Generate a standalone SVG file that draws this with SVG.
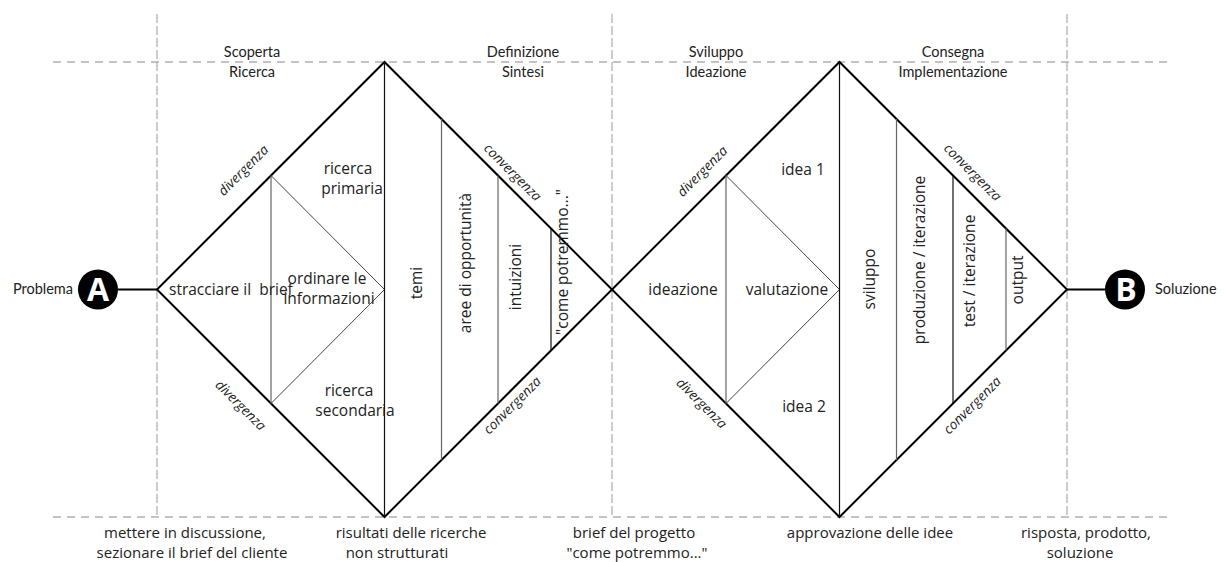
<svg xmlns="http://www.w3.org/2000/svg" width="1225" height="562" viewBox="0 0 1225 562">
<style>
.hd{stroke:#888;stroke-width:1.2;stroke-dasharray:8 6;fill:none}
.vd{stroke:#999;stroke-width:1;stroke-dasharray:9 3;fill:none}
.edge{stroke:#000;stroke-width:2;fill:none;stroke-linejoin:miter}
.axis{stroke:#111;stroke-width:1.2;fill:none}
.inner{stroke:#666;stroke-width:1.2;fill:none}
.thin{stroke:#444;stroke-width:1;fill:none}
.ph{font-family:Lato,"Liberation Sans",sans-serif;font-size:14.5px;fill:#222;text-anchor:middle}
.lb{font-family:"Open Sans","Noto Sans",sans-serif;font-size:15.5px;fill:#222;text-anchor:middle}
.bt{font-family:"Open Sans","Noto Sans",sans-serif;font-size:15px;fill:#222;text-anchor:middle}
.it{font-family:"Open Sans","Noto Sans",sans-serif;font-size:13.5px;font-style:italic;fill:#222;text-anchor:middle;dominant-baseline:central}
.end{font-family:Lato,"Liberation Sans",sans-serif;font-size:14.5px;fill:#222}
.ltr{font-family:"Open Sans","Liberation Sans",sans-serif;font-weight:bold;font-size:32px;fill:#fff;text-anchor:middle}
</style>

<g id="guides">
<line class="hd" x1="53" y1="62" x2="1172" y2="62"/>
<line class="hd" x1="53" y1="517" x2="1172" y2="517"/>
<line class="vd" x1="157" y1="14" x2="157" y2="517"/>
<line class="vd" x1="612" y1="14" x2="612" y2="517"/>
<line class="vd" x1="1067" y1="14" x2="1067" y2="517"/>
</g>

<g id="phase-labels">
<text class="ph" x="252" y="57">Scoperta</text>
<text class="ph" x="252" y="77">Ricerca</text>
<text class="ph" x="523" y="57">Definizione</text>
<text class="ph" x="523" y="77">Sintesi</text>
<text class="ph" x="716" y="57">Sviluppo</text>
<text class="ph" x="716" y="77">Ideazione</text>
<text class="ph" x="953" y="57">Consegna</text>
<text class="ph" x="953" y="77">Implementazione</text>
</g>

<g id="diamond-1">
<polygon class="edge" points="157,289.5 384.5,62 612,289.5 384.5,517"/>
<line class="inner" x1="271" y1="175.5" x2="271" y2="403.5"/>
<polyline class="thin" points="271,175.5 384.5,289.5 271,403.5"/>
<line class="axis" x1="384.5" y1="62" x2="384.5" y2="517"/>
<line class="inner" x1="441.5" y1="119" x2="441.5" y2="460"/>
<line class="inner" x1="498" y1="175.5" x2="498" y2="403.5"/>
<line class="axis" x1="551" y1="228.5" x2="551" y2="350.5"/>
<text class="lb" x="348" y="174">ricerca</text>
<text class="lb" x="352" y="194">primaria</text>
<text class="lb" x="169" y="295" style="text-anchor:start;white-space:pre">stracciare il  brief</text>
<text class="lb" x="327" y="284">ordinare le</text>
<text class="lb" x="329" y="304">informazioni</text>
<text class="lb" x="349" y="396">ricerca</text>
<text class="lb" x="355" y="416">secondaria</text>
<text class="lb" transform="translate(422,283) rotate(-90)">temi</text>
<text class="lb" transform="translate(471,263) rotate(-90)">aree di opportunità</text>
<text class="lb" transform="translate(521,277) rotate(-90)">intuizioni</text>
<text class="lb" transform="translate(568,262) rotate(-90)">"come potremmo..."</text>
<text class="it" transform="translate(243,170) rotate(-45)">divergenza</text>
<text class="it" transform="translate(241,405) rotate(45)">divergenza</text>
<text class="it" transform="translate(513,172) rotate(45)">convergenza</text>
<text class="it" transform="translate(512,405) rotate(-45)">convergenza</text>
</g>

<g id="diamond-2">
<polygon class="edge" points="612,289.5 839.5,62 1067,289.5 839.5,517"/>
<line class="inner" x1="726" y1="175.5" x2="726" y2="403.5"/>
<polyline class="thin" points="726,175.5 839.5,289.5 726,403.5"/>
<line class="axis" x1="839.5" y1="62" x2="839.5" y2="517"/>
<line class="inner" x1="896.5" y1="119" x2="896.5" y2="460"/>
<line class="axis" x1="953" y1="175.5" x2="953" y2="403.5"/>
<line class="inner" x1="1006" y1="228.5" x2="1006" y2="350.5"/>
<text class="lb" x="803" y="175">idea 1</text>
<text class="lb" x="683" y="295">ideazione</text>
<text class="lb" x="787" y="295">valutazione</text>
<text class="lb" x="804" y="412">idea 2</text>
<text class="lb" transform="translate(875,279) rotate(-90)">sviluppo</text>
<text class="lb" transform="translate(925,260) rotate(-90)">produzione / iterazione</text>
<text class="lb" transform="translate(975,271) rotate(-90)">test / iterazione</text>
<text class="lb" transform="translate(1023,280) rotate(-90)">output</text>
<text class="it" transform="translate(702,171) rotate(-45)">divergenza</text>
<text class="it" transform="translate(702,403) rotate(45)">divergenza</text>
<text class="it" transform="translate(973,172) rotate(45)">convergenza</text>
<text class="it" transform="translate(972,405) rotate(-45)">convergenza</text>
</g>

<g id="connectors">
<line class="edge" x1="118" y1="289.5" x2="157" y2="289.5"/>
<line class="edge" x1="1067" y1="289.5" x2="1105" y2="289.5"/>
</g>

<g id="start-A">
<circle cx="98" cy="289.5" r="20" fill="#000"/>
<text class="ltr" x="98" y="301">A</text>
<text class="end" x="73" y="294" text-anchor="end">Problema</text>
</g>

<g id="end-B">
<circle cx="1125" cy="289.5" r="20" fill="#000"/>
<text class="ltr" x="1126" y="301">B</text>
<text class="end" x="1155" y="294">Soluzione</text>
</g>

<g id="outcomes">
<text class="bt" x="185" y="538">mettere in discussione,</text>
<text class="bt" x="192" y="558">sezionare il brief del cliente</text>
<text class="bt" x="411" y="538">risultati delle ricerche</text>
<text class="bt" x="397" y="558">non strutturati</text>
<text class="bt" x="634" y="538">brief del progetto</text>
<text class="bt" x="637" y="558">"come potremmo..."</text>
<text class="bt" x="870" y="538">approvazione delle idee</text>
<text class="bt" x="1086" y="538">risposta, prodotto,</text>
<text class="bt" x="1080" y="558">soluzione</text>
</g>
</svg>
